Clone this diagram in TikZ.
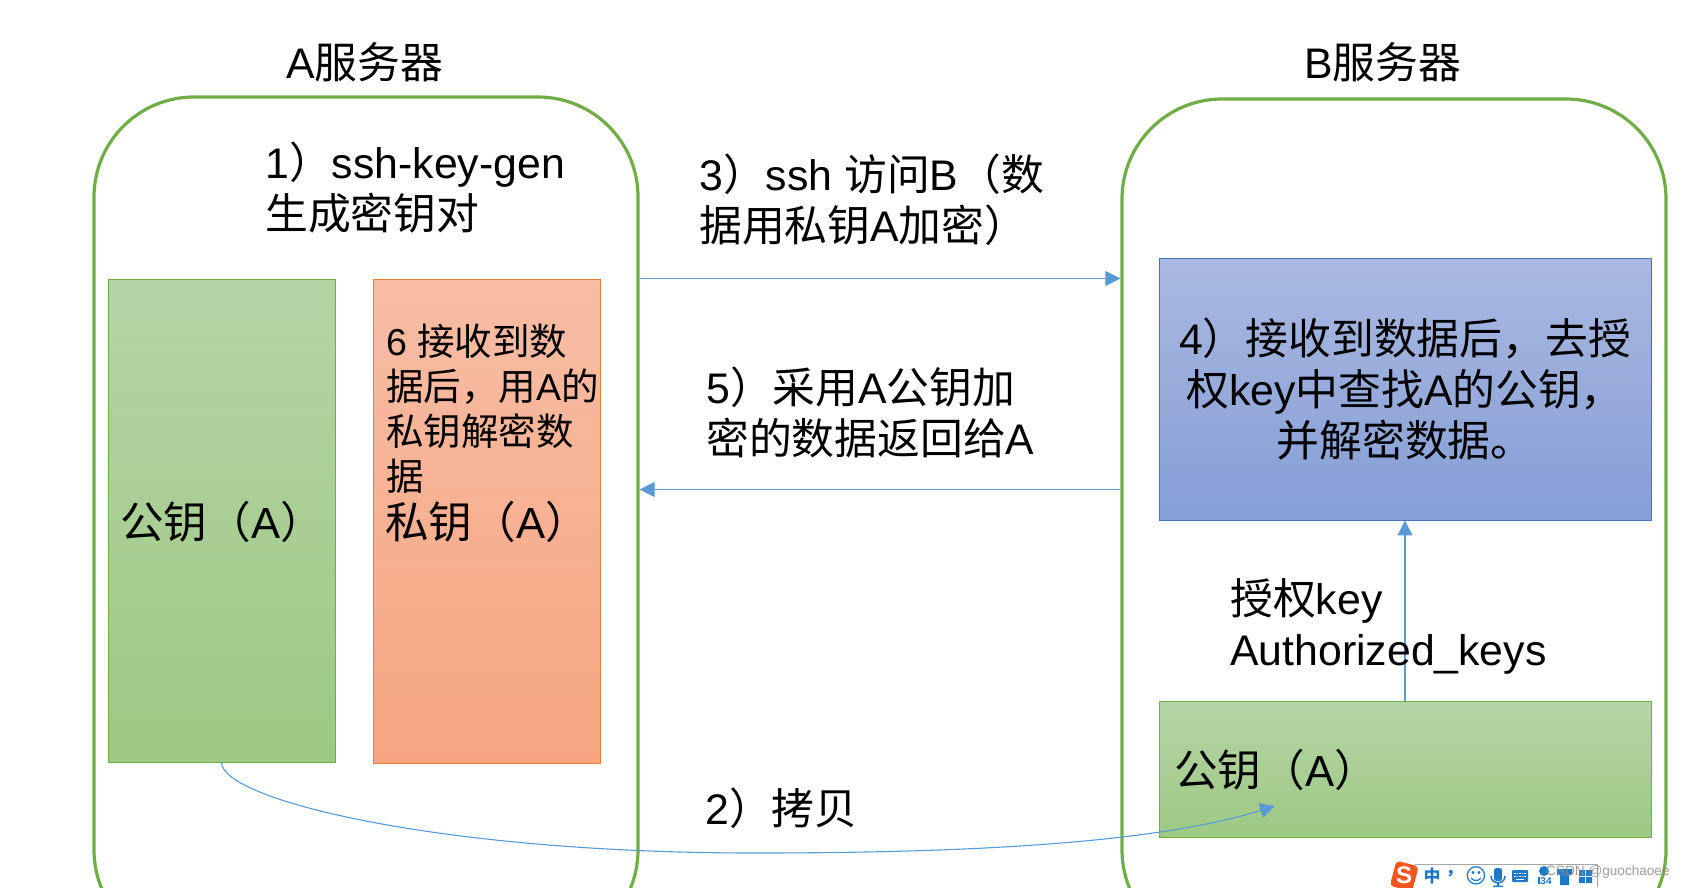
\documentclass[tikz,border=0pt]{standalone}
\usepackage{fontspec}
\setmainfont{Liberation Sans}
\newfontfamily\cjk{Noto Sans CJK SC}
\newfontfamily\djv{DejaVu Sans}
\newcommand{\C}[1]{{\cjk #1}}
\usetikzlibrary{arrows.meta}
\definecolor{srvgreen}{HTML}{70AD47}
\definecolor{linkblue}{HTML}{5B9BD5}
\definecolor{imeblue}{HTML}{1F78C8}
\definecolor{greentop}{HTML}{B5D4A6}
\definecolor{greenbot}{HTML}{9DC983}
\definecolor{orangeline}{HTML}{ED7D31}
\definecolor{orangetop}{HTML}{F7BDA5}
\definecolor{orangebot}{HTML}{F6A57F}
\definecolor{blueline}{HTML}{4472C4}
\definecolor{bluetop}{HTML}{A9B9E0}
\definecolor{bluebot}{HTML}{859ED6}
\definecolor{imeorange}{HTML}{F4561D}
\tikzset{
  server/.style={draw=srvgreen,line width=3.2pt,rounded corners=100pt,inner sep=0pt,fill=none},
  greenbox/.style={draw=srvgreen,line width=.9pt,top color=greentop,bottom color=greenbot,inner sep=0pt},
  orangebox/.style={draw=orangeline,line width=.9pt,top color=orangetop,bottom color=orangebot,inner sep=0pt},
  bluebox/.style={draw=blueline,line width=.9pt,top color=bluetop,bottom color=bluebot,inner sep=0pt},
  link/.style={draw=linkblue,line width=1.1pt,-{Triangle[length=15pt,width=15pt]}},
  big/.style={font=\fontsize{42.8}{51}\selectfont,inner sep=0pt,text=black},
  keylabel/.style={font=\fontsize{43.6}{51}\selectfont,inner sep=0pt,text=black,anchor=base west},
  mid/.style={font=\fontsize{37.5}{44.8}\selectfont,inner sep=0pt,text=black},
  lefttext/.style={align=left,anchor=north west},
  ime/.style={font=\bfseries\fontsize{17}{17}\selectfont,text=imeblue,inner sep=0pt}
}
\begin{document}
\begin{tikzpicture}[x=1pt,y=-1pt]
\useasboundingbox (0,0) rectangle (1686,887);
\clip (0,0) rectangle (1686,887);
\fill[white] (0,0) rectangle (1686,887);
% servers
\node[server,minimum width=544pt,minimum height=853pt] (srvA) at (366,523.5) {};
\node[server,minimum width=544pt,minimum height=851pt] (srvB) at (1394,524.5) {};
% boxes
\node[greenbox,minimum width=227pt,minimum height=482.5pt] (pubA) at (221.5,520.75) {};
\node[orangebox,minimum width=227pt,minimum height=483.5pt] (privA) at (486.5,521.25) {};
\node[bluebox,minimum width=492pt,minimum height=262pt] (proc) at (1405,389) {};
\node[greenbox,minimum width=492pt,minimum height=136pt] (pubB) at (1405,769.5) {};
% connector anchors
\coordinate (a3) at (srvA.east |- 0,278.5);
\coordinate (b3) at (srvB.west |- 0,278.5);
\coordinate (a5) at (srvA.east |- 0,489.5);
\coordinate (b5) at (srvB.west |- 0,489.5);
\coordinate (curveEnd) at (1275,806);
% connectors
\draw[link] (a3) -- (b3);
\draw[link] (b5) -- (a5);
\draw[link] (pubB.north) -- (proc.south);
\draw[link] (pubA.south) .. controls (222,800) and (440,853) .. (754,853) .. controls (950,853) and (1150,845) .. (curveEnd);
% titles
\node[big,anchor=base west] (titleA) at (286,78) {A\C{服务器}};
\node[big,anchor=base west] (titleB) at (1304,78) {B\C{服务器}};
% labels
\node[big,lefttext] (t1) at (265,142) {1\C{）}ssh-key-gen\\\C{生成密钥对}};
\node[big,lefttext] (t3) at (699,154) {3\C{）}ssh \C{访问}B\C{（数}\\\C{据用私钥}A\C{加密）}};
\node[big,lefttext] (t5) at (706,367) {5\C{）采用}A\C{公钥加}\\\C{密的数据返回给}A};
\node[big,anchor=base west] (t2) at (705,824) {2\C{）拷贝}};
\node[big,align=center,anchor=north] (t4) at (1405,318) {4\C{）接收到数据后，去授}\\\C{权}key\C{中查找}A\C{的公钥，}\\\C{并解密数据。}};
\node[big,lefttext] (tk) at (1230,578) {\C{授权}key\\Authorized\_keys};
\node[keylabel] (pa) at (120,538) {\C{公钥（}A\C{）}};
\node[keylabel] (pr) at (385,538) {\C{私钥（}A\C{）}};
\node[keylabel] (pb) at (1174,786) {\C{公钥（}A\C{）}};
\node[mid,lefttext] (t6) at (386,324) {6 \C{接收到数}\\\C{据后，用}A\C{的}\\\C{私钥解密数}\\\C{据}};
% input-method toolbar
\draw[gray!70,line width=1pt] (1415,864.5) -- (1597,864.5) -- (1597,887);
\fill[imeorange,rounded corners=4pt,rotate around={-15:(1404,875)}] (1393,863) rectangle (1416,889);
\node[font=\bfseries\fontsize{24}{24}\selectfont,text=white,inner sep=0pt] (imeS) at (1404,875) {S};
\node[ime] (i1) at (1432,876) {\C{中}};
\node[ime] (i2) at (1454,874) {\C{，}};
\node[ime,font=\djv\fontsize{21}{21}\selectfont] (i3) at (1476,876) {☺};
\fill[imeblue,rounded corners=2.5pt] (1494,868) rectangle (1502,881);
\draw[imeblue,line width=1.5pt] (1491,876) .. controls (1491,885) and (1505,885) .. (1505,876);
\fill[imeblue] (1497,882) rectangle (1499,886) (1493,885.5) rectangle (1503,887);
\fill[imeblue,rounded corners=1pt] (1512,870) rectangle (1528,882);
\draw[white,line width=1.2pt,dash pattern=on 1.5pt off 1pt] (1514,873.5) -- (1526,873.5) (1514,876.5) -- (1526,876.5);
\draw[white,line width=1.2pt] (1516,879.5) -- (1524,879.5);
\fill[imeblue] (1544,871) circle (5pt) (1538,877) rectangle (1550,884);
\node[font=\bfseries\fontsize{10}{10}\selectfont,fill=white,text=imeblue,inner sep=.5pt] (badge) at (1546,881) {34};
\fill[imeblue] (1560,871) rectangle (1569,885) (1557,869) rectangle (1572,875);
\fill[imeblue] (1579,870) rectangle (1585,876) (1586,870) rectangle (1592,876) (1579,877) rectangle (1585,883) (1586,877) rectangle (1592,883);
\node[font=\fontsize{13.6}{15}\selectfont,text=black!45,anchor=base west,inner sep=0pt,opacity=.85] (wm) at (1546,875) {CSDN @guochaoee};
\end{tikzpicture}
\end{document}
